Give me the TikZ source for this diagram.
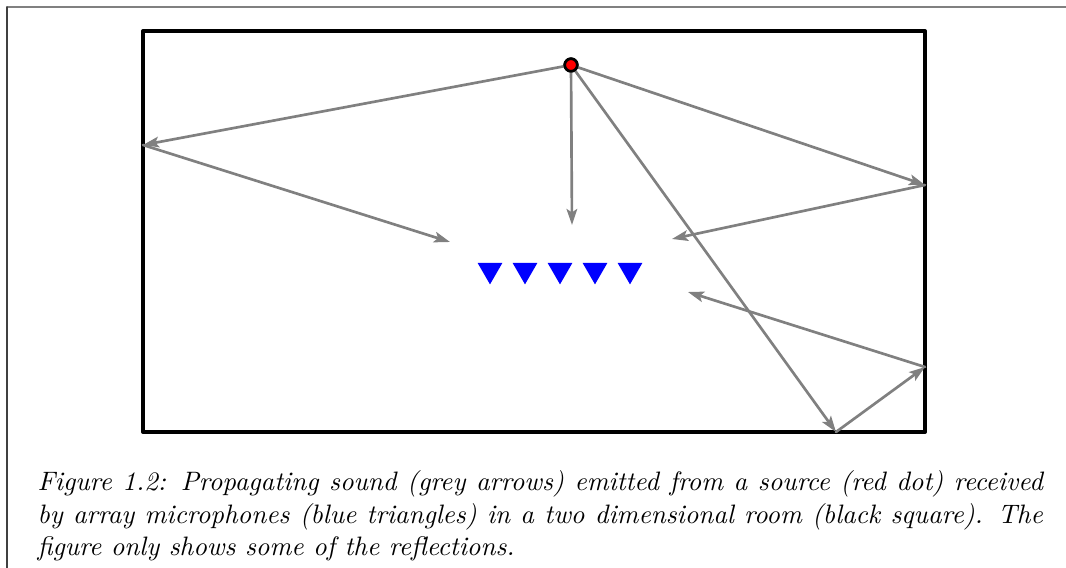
\documentclass[tikz,border=0pt]{standalone}
\usetikzlibrary{arrows.meta,shapes.geometric}
\begin{document}
\begin{tikzpicture}[x=0.375pt,y=-0.375pt,>={Stealth[length=6pt,width=4pt,inset=1.3pt]},line join=round,line cap=round,
	ray/.style={->,draw=gray,line width=1pt},
	mic/.style={regular polygon,regular polygon sides=3,shape border rotate=180,fill=blue,inner sep=0pt,minimum size=10.8pt},
	source/.style={circle,fill=red,draw=black,line width=1pt,inner sep=0pt,minimum size=4.7pt}]
	\useasboundingbox (0,0) rectangle (1066,568);
	% page frame
	\draw[gray,line width=0.7pt] (7,7)--(1066,7);
	\draw[black!75,line width=0.5pt] (7,7)--(7,568);
	% room
	\draw[line width=1.5pt] (143,31) rectangle (925,432);
	% reflection points and ends of the rays
	\coordinate (wl) at (143,145);
	\coordinate (wr) at (925,185);
	\coordinate (wb) at (836,432);
	\coordinate (wr2) at (925,367);
	\coordinate (e1) at (450,242);
	\coordinate (e2) at (572,225);
	\coordinate (e3) at (672,239);
	\coordinate (e4) at (688,292);
	% microphones
	\foreach \i/\x in {1/490,2/525,3/560,4/595,5/630}
		\node[mic] (m\i) at (\x,270) {};
	\node[source] (src) at (571,65) {};
	% rays
	\draw[ray] (src)--(wl);
	\draw[ray] (wl)--(e1);
	\draw[ray] (src)--(e2);
	\draw[ray] (src)--(wr);
	\draw[ray] (wr)--(e3);
	\draw[ray] (src)--(wb);
	\draw[ray] (wb)--(wr2);
	\draw[ray] (wr2)--(e4);
	\node[source] at (src) {};
	% caption
	\node[anchor=north west,text width=377pt,align=justify,inner sep=0pt,font=\fontsize{10}{12.2}\selectfont\itshape] (cap) at (37,470)
		{Figure 1.2: Propagating sound (grey arrows) emitted from a source (red dot) received by array microphones (blue triangles) in a two dimensional room (black square). The figure only shows some of the reflections.};
\end{tikzpicture}
\end{document}
